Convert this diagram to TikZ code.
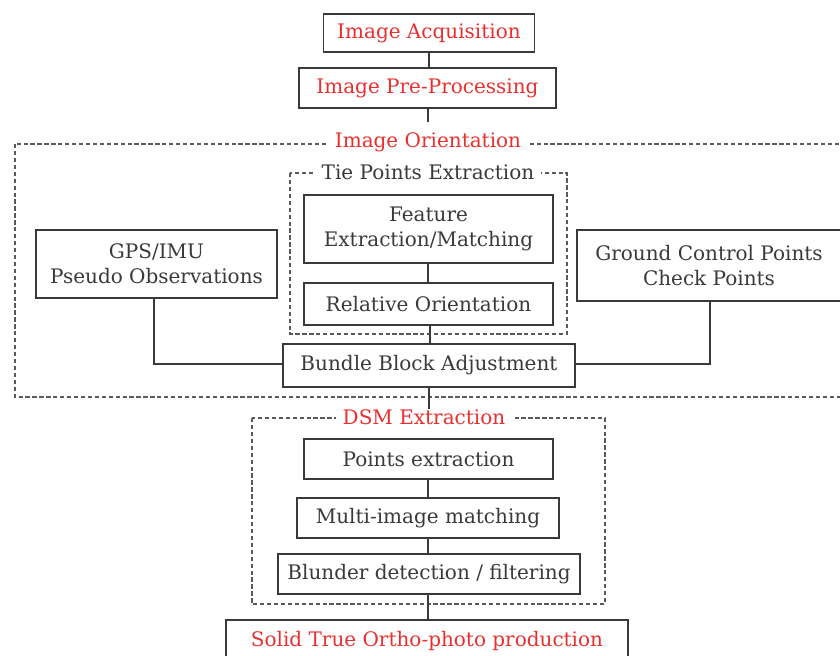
\documentclass[tikz,border=0pt]{standalone}
\usepackage{fontspec}
\setmainfont{DejaVu Serif}
\newdimen\px \px=0.75pt
\definecolor{ink}{HTML}{3A3A3A}
\definecolor{stage}{HTML}{E8302F}
\definecolor{dash}{HTML}{5A5A5A}
\tikzset{
  box/.style={draw=ink, line width=1.1pt, fill=white, text=ink, align=center,
    inner sep=0pt, font=\fontsize{15}{19}\selectfont},
  stagebox/.style={box, text=stage},
  group/.style={draw=dash, line width=1pt, dash pattern=on 3.2pt off 2pt},
  grouplabel/.style={fill=white, inner sep=0pt, inner xsep=7\px, text=ink,
    font=\fontsize{15}{19}\selectfont},
  stagelabel/.style={grouplabel, text=stage},
  link/.style={draw=ink, line width=1.1pt}
}
\begin{document}
\begin{tikzpicture}[x=0.75pt, y=-0.75pt]
\useasboundingbox (0,0) rectangle (840,656);

% dashed groups
\draw[group] (15,144) rectangle (850,397);
\draw[group] (290,173) rectangle (567,334);
\draw[group] (252,418) rectangle (605,604);

% group labels
\node[stagelabel] (orient) at (428,142) {Image Orientation};
\node[grouplabel] (tie) at (428,172) {Tie Points Extraction};
\node[stagelabel] (dsm) at (424,417) {DSM Extraction};

% top stages
\node[stagebox, minimum width=211\px, minimum height=38\px] (acq) at (429,33) {Image Acquisition};
\node[stagebox, minimum width=257\px, minimum height=40\px] (pre) at (427.5,88) {Image Pre-Processing};

% orientation block
\node[box, minimum width=249\px, minimum height=68\px] (feat) at (428.5,229) {Feature\\Extraction/Matching};
\node[box, minimum width=249\px, minimum height=42\px] (rel) at (428.5,304) {Relative Orientation};
\node[box, minimum width=292\px, minimum height=43\px] (bba) at (429,365.5) {Bundle Block Adjustment};
\node[box, minimum width=241\px, minimum height=68\px] (gps) at (156.5,264) {GPS/IMU\\Pseudo Observations};
\node[box, minimum width=264\px, minimum height=71\px] (gcp) at (709,265.5) {Ground Control Points\\Check Points};

% DSM block
\node[box, minimum width=249\px, minimum height=40\px] (pts) at (428.5,459) {Points extraction};
\node[box, minimum width=262\px, minimum height=40\px] (multi) at (428,518) {Multi-image matching};
\node[box, minimum width=302\px, minimum height=40\px] (blun) at (429,574) {Blunder detection / filtering};
\node[stagebox, minimum width=402\px, minimum height=42\px] (solid) at (427,641) {Solid True Ortho-photo production};

% connectors
\coordinate (preend) at (428,122);
\draw[link] (acq.south) -- (acq.south |- pre.north);
\draw[link] (pre.south -| preend) -- (preend);
\draw[link] (feat.south -| 428,0) -- (rel.north -| 428,0);
\draw[link] (430,325.5) coordinate (relout) -- (relout |- bba.north);
\draw[link] (gps.south -| 154,0) -- (154,364) -- (bba.west |- 0,364);
\draw[link] (gcp.south -| 710,0) -- (710,364) -- (bba.east |- 0,364);
\draw[link] (bba.south -| 429,0) -- (dsm.north -| 429,0);
\draw[link] (pts.south -| 428,0) -- (multi.north -| 428,0);
\draw[link] (multi.south -| 428,0) -- (blun.north -| 428,0);
\draw[link] (blun.south -| 428,0) -- (solid.north -| 428,0);
\end{tikzpicture}
\end{document}
